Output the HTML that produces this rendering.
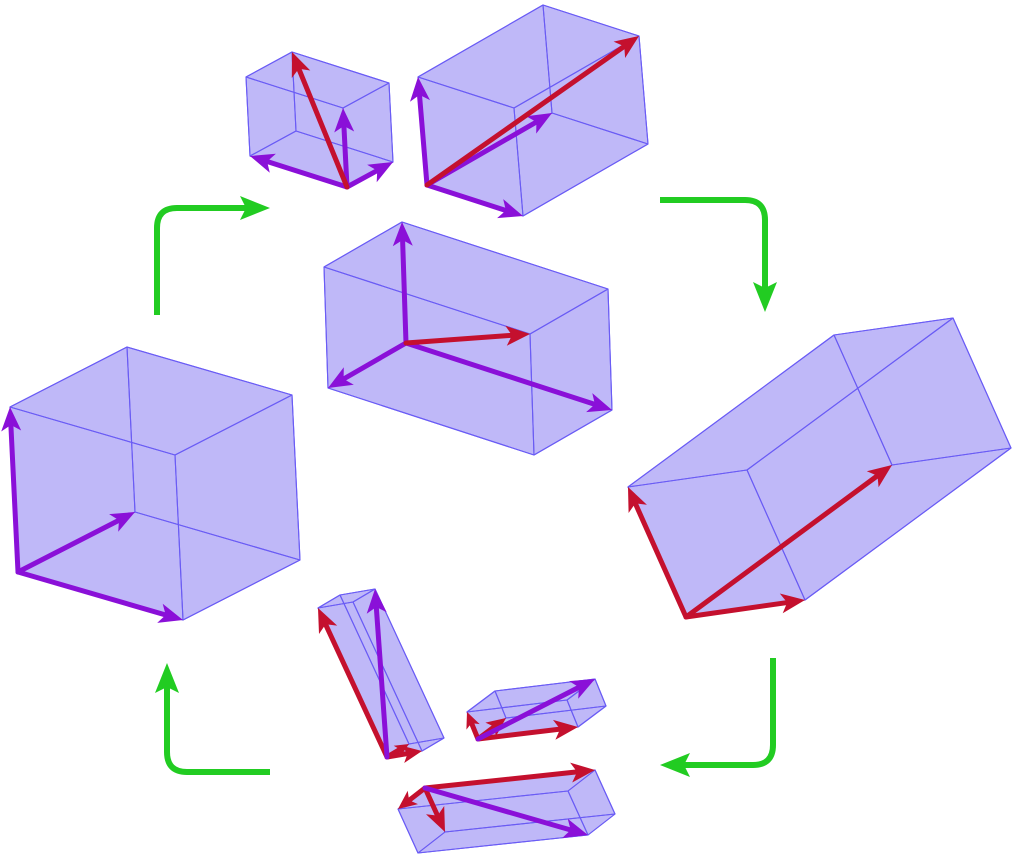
<!DOCTYPE html>
<html><head><meta charset="utf-8"><style>html,body{margin:0;padding:0;background:#fff}svg{display:block}</style></head>
<body>
<svg id="s" width="1024" height="856" viewBox="0 0 1024 856" xmlns="http://www.w3.org/2000/svg">
<g fill="none" stroke="#22cc22" stroke-width="6" stroke-linecap="butt">
<path d="M157 315 V228 Q157 208 177 208 H250"/>
<path d="M660 200 H745 Q765 200 765 220 V292"/>
<path d="M773 658 V745 Q773 765 753 765 H680"/>
<path d="M270 772 H187 Q167 772 167 752 V683"/>
</g>
<g fill="#22cc22">
<polygon points="270,208 240,196 246,208 240,220"/>
<polygon points="765,312 753,282 765,288 777,282"/>
<polygon points="660,765 690,753 684,765 690,777"/>
<polygon points="167,663 155,693 167,687 179,693"/>
</g>
</svg>
<script>
const s=document.getElementById('s');const NS='http://www.w3.org/2000/svg';
const P='#8a10d8',R='#c4102e';
function el(t,a){const e=document.createElementNS(NS,t);for(const k in a)e.setAttribute(k,a[k]);s.appendChild(e);return e;}
function pt(p){return p[0].toFixed(1)+','+p[1].toFixed(1);}
function add(p,q){return [p[0]+q[0],p[1]+q[1]];}
function arrow(o,v,col){const L=Math.hypot(v[0],v[1]);const ux=v[0]/L,uy=v[1]/L;const h=Math.min(24,L*0.55),w=Math.min(10,h*0.45);
 const tip=add(o,v);const base=[tip[0]-ux*h,tip[1]-uy*h];const back=[tip[0]-ux*h*0.75,tip[1]-uy*h*0.75];
 el('line',{x1:o[0],y1:o[1],x2:back[0],y2:back[1],stroke:col,'stroke-width':5,'stroke-linecap':'round'});
 el('polygon',{points:[pt(tip),pt([base[0]-uy*w,base[1]+ux*w]),pt(back),pt([base[0]+uy*w,base[1]-ux*w])].join(' '),fill:col});}
function box(O,a,b,c,arrows){
 const V=(i,j,k)=>[O[0]+i*a[0]+j*b[0]+k*c[0],O[1]+i*a[1]+j*b[1]+k*c[1]];
 const faces=[[[0,0,0],[1,0,0],[1,1,0],[0,1,0]],[[0,0,1],[1,0,1],[1,1,1],[0,1,1]],
 [[0,0,0],[1,0,0],[1,0,1],[0,0,1]],[[0,1,0],[1,1,0],[1,1,1],[0,1,1]],
 [[0,0,0],[0,1,0],[0,1,1],[0,0,1]],[[1,0,0],[1,1,0],[1,1,1],[1,0,1]]];
 for(const f of faces)el('polygon',{points:f.map(q=>pt(V(...q))).join(' '),fill:'#6a58ee','fill-opacity':0.24,stroke:'#6a5cf5','stroke-width':1.1,'stroke-linejoin':'round'});
 for(const [v,col] of arrows)arrow(O,v,col);
}
const S=(...v)=>v.reduce((x,y)=>add(x,y),[0,0]);
let a,b,c;
a=[-8,-165];b=[165,48];c=[117,-60];box([18,572],a,b,c,[[a,P],[b,P],[c,P]]);
a=[-4,-121];b=[206,67];c=[-78,45];box([406,343],a,b,c,[[a,P],[b,P],[c,P],[S(a,b,c),R]]);
a=[-4,-79];b=[-97,-31];c=[46,-25];box([347,187],a,b,c,[[a,P],[b,P],[c,P],[S(a,b,c),R]]);
a=[-9,-108];b=[96,31];c=[125,-72];box([427,185],a,b,c,[[a,P],[b,P],[c,P],[S(a,b,c),R]]);
a=[-58,-130];b=[119,-17];c=[206,-152];box([686,617],a,b,c,[[a,R],[b,R],[c,R]]);
a=[-69,-149];b=[35,-6];c=[22,-13];box([387,757],a,b,c,[[a,R],[b,R],[c,R],[S(a,b,c),P]]);
a=[-11,-27];b=[100,-12];c=[28,-21];box([478,739],a,b,c,[[a,R],[b,R],[c,R],[S(a,b,c),P]]);
a=[-27,21];b=[170,-18];c=[20,44];box([425,788],a,b,c,[[a,R],[b,R],[c,R],[S(a,b,c),P]]);
</script>
</body></html>
